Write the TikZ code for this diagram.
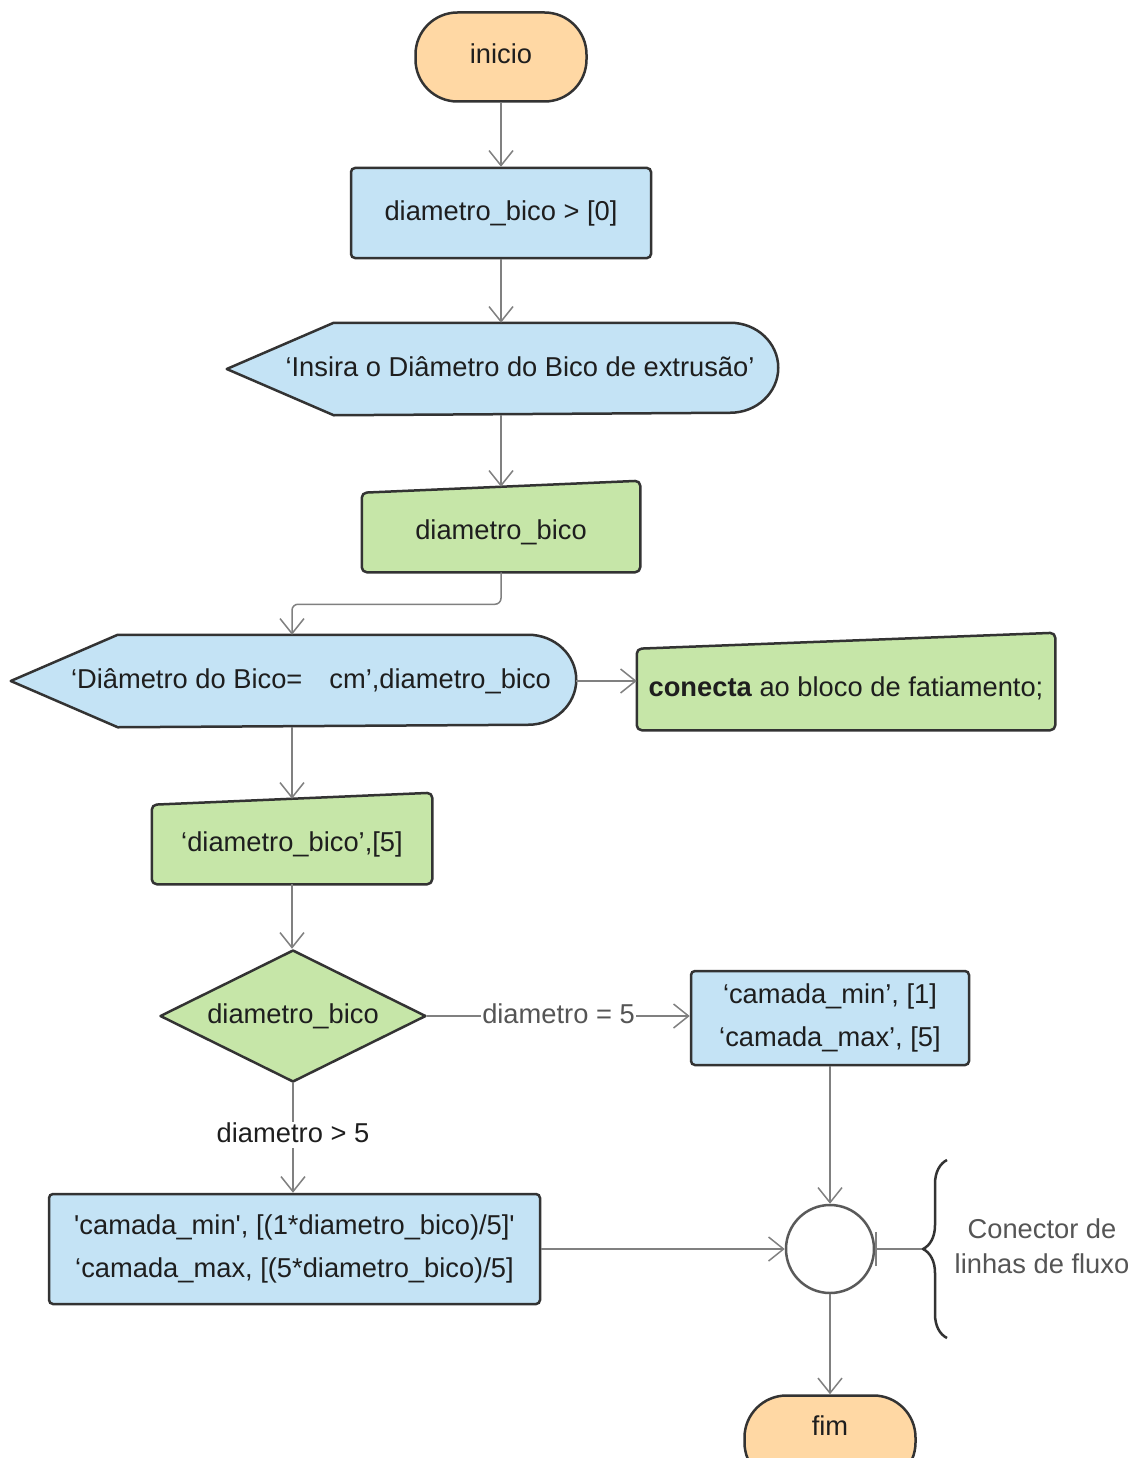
\documentclass[tikz,border=0pt]{standalone}
\usepackage{fontspec}
\setmainfont{Liberation Sans}[Ligatures=TeXOff]
\usepackage{tikz}
\usetikzlibrary{arrows.meta,shapes.geometric,positioning,backgrounds,decorations.pathreplacing}
\definecolor{termfill}{HTML}{FFD8A4}
\definecolor{procblue}{HTML}{C4E3F5}
\definecolor{inputgreen}{HTML}{C6E6A8}
\definecolor{shapeline}{HTML}{333333}
\definecolor{flowgray}{HTML}{808080}
\definecolor{jointgray}{HTML}{5A5A5A}
\definecolor{textdark}{HTML}{1E1E1E}
\definecolor{notegray}{HTML}{555555}

\tikzset{
  box/.style={line width=2.5pt, text=textdark, inner sep=0pt,
    font=\fontsize{27.3}{43}\selectfont},
  oneline/.style={text height=19pt, text depth=5pt},
  terminal/.style={box, oneline, draw=shapeline, fill=termfill, rounded corners=42pt,
    minimum width=171pt, minimum height=89pt},
  process/.style={box, draw=shapeline, fill=procblue, rounded corners=4pt, align=center},
  decision/.style={box, oneline, draw=shapeline, fill=inputgreen, diamond, aspect=2,
    line join=round, minimum width=266pt, minimum height=132pt},
  display/.style={box, oneline, minimum height=90pt},
  manual/.style={box, oneline, minimum height=77pt},
  joint/.style={circle, draw=jointgray, line width=2.5pt, fill=white,
    minimum size=88pt, inner sep=0pt},
  outline/.style={draw=shapeline, line width=2.5pt, line join=round},
  flow/.style={draw=flowgray, line width=1.5pt, -{Straight Barb[length=15pt,width=24pt]}},
  cond/.style={oneline, font=\fontsize{27.3}{43}\selectfont, fill=white, inner sep=1pt}
}

\begin{document}
\begin{tikzpicture}[x=1pt,y=-1pt]
  \useasboundingbox (0,0) rectangle (1145,1458);
  \clip (0,0) rectangle (1145,1458);

  % display symbol: pointed left end, round right end
  \def\dispoutline#1{%
    \draw[outline, fill=procblue] ([xshift=-35pt]#1.west)
      -- ([xshift=72pt]#1.north west) -- ([xshift=-48pt]#1.north east)
      arc[start angle=90, end angle=-90, x radius=48pt, y radius=45pt]
      -- ([xshift=72pt]#1.south west) -- cycle;}
  % manual input: top edge rises to the right
  \def\manoutline#1#2{%
    \draw[outline, fill=inputgreen, rounded corners=5pt] (#1.south west)
      -- (#1.north west) -- ([yshift=#2]#1.north east) -- (#1.south east) -- cycle;}

  \node[terminal] (start) at (501,57) {inicio};
  \node[process, oneline, minimum width=300pt, minimum height=90pt] (init) at (501,213)
    {diametro\_bico > [0]};
  \node[display, minimum width=514pt] (ask) at (520,369)
    {‘Insira o Diâmetro do Bico de extrusão’};
  \node[manual, minimum width=276pt] (read1) at (501,532.5) {diametro\_bico};
  \node[display, minimum width=528pt] (show) at (311,681)
    {‘Diâmetro do Bico=\hspace{27pt}cm’,diametro\_bico};
  \node[manual, minimum width=416pt, minimum height=79pt] (link) at (846,689.5)
    {\textbf{conecta} ao bloco de fatiamento;};
  \node[manual, minimum width=278pt] (store) at (292,844.5) {‘diametro\_bico’,[5]};
  \node[decision] (test) at (293,1016) {diametro\_bico};
  \node[process, minimum width=278pt, minimum height=94pt] (setA) at (830,1018)
    {‘camada\_min’, [1]\\‘camada\_max’, [5]};
  \node[process, minimum width=491pt, minimum height=110pt] (setB) at (294.5,1249)
    {'camada\_min', [(1*diametro\_bico)/5]'\\‘camada\_max, [(5*diametro\_bico)/5]};
  \node[joint] (join) at (830,1249) {};
  \node[terminal, text depth=29pt] (finish) at (830,1440) {fim};

  \begin{scope}[on background layer]
    \fill[white] (0,0) rectangle (1145,1458);
    \dispoutline{ask}
    \dispoutline{show}
    \manoutline{read1}{12pt}
    \manoutline{link}{16pt}
    \manoutline{store}{12pt}
  \end{scope}

  % flow lines
  \draw[flow] (start) -- (init);
  \draw[flow] (init) -- (init |- ask.north);
  \draw[flow] (init |- ask.south) -- ([yshift=6pt]read1.north);
  \draw[flow, rounded corners=6pt] (read1.south) -- ++(0,32) -| (store |- show.north);
  \draw[flow] (show.east) -- (show.east -| link.west);
  \draw[flow] (store |- show.south) -- ([yshift=6pt]store.north);
  \draw[flow] (store.south) -- (store.south |- test.north);
  \draw[flow] (test.east) -- node[cond, text=notegray] {diametro = 5} (test.east -| setA.west);
  \draw[flow] (test.south) -- node[cond, text=textdark, yshift=3pt] {diametro > 5} (test.south |- setB.north);
  \draw[flow] (setA.south) -- (join.north);
  \draw[flow] (setB.east) -- (join.west);
  \draw[flow] (join.south) -- (finish.north);

  % connector note
  \coordinate (bracetip) at (923,1249);
  \draw[draw=flowgray, line width=1.5pt, {Bar[width=34pt]}-] (join.east) -- (bracetip);
  \draw[outline, decorate, decoration={brace, amplitude=24pt}] (947,1338) -- (947,1160);
  \node[align=center, text=notegray, font=\fontsize{27.3}{35}\selectfont] (note) at (1042,1246)
    {Conector de\\linhas de fluxo};
\end{tikzpicture}
\end{document}
